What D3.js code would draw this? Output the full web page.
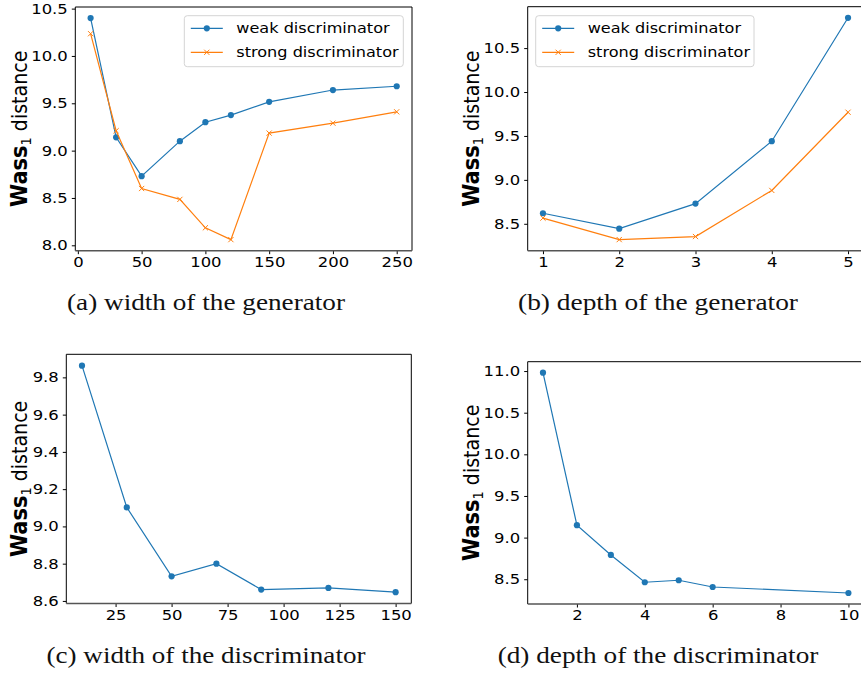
<!DOCTYPE html>
<html>
<head>
<meta charset="utf-8">
<script src="https://cdn.jsdelivr.net/npm/d3@7"></script>
<style>
  body { margin: 0; background: #fff; }
  svg { display: block; }
</style>
</head>
<body>
<svg id="chart" width="861" height="673"></svg>
<script>
// ---- data ----
const seriesNames = ['weak discriminator', 'strong discriminator']

// (a) width of the generator
const genWidths = [10, 30, 50, 80, 100, 120, 150, 200, 250]
const genWidthWeak = [10.40, 9.14, 8.73, 9.10, 9.30, 9.375, 9.515, 9.64, 9.68]
const genWidthStrong = [10.235, 9.21, 8.60, 8.485, 8.185, 8.06, 9.185, 9.29, 9.41]

// (b) depth of the generator
const genDepths = [1, 2, 3, 4, 5]
const genDepthWeak = [8.62, 8.445, 8.73, 9.44, 10.845]
const genDepthStrong = [8.565, 8.32, 8.355, 8.88, 9.77]

// (c) width of the discriminator
const discWidths = [10, 30, 50, 70, 90, 120, 150]
const discWidthVals = [9.863, 9.102, 8.732, 8.80, 8.661, 8.670, 8.647]

// (d) depth of the discriminator
const discDepths = [1, 2, 3, 4, 5, 6, 10]
const discDepthVals = [10.98, 9.149, 8.792, 8.464, 8.488, 8.407, 8.335]

// tick values
const xTicksA = [0, 50, 100, 150, 200, 250]
const yTicksA = [8.0, 8.5, 9.0, 9.5, 10.0, 10.5]
const xTicksB = [1, 2, 3, 4, 5]
const yTicksB = [8.5, 9.0, 9.5, 10.0, 10.5]
const xTicksC = [25, 50, 75, 100, 125, 150]
const yTicksC = [8.6, 8.8, 9.0, 9.2, 9.4, 9.6, 9.8]
const xTicksD = [2, 4, 6, 8, 10]
const yTicksD = [8.5, 9.0, 9.5, 10.0, 10.5, 11.0]

const captions = [
  '(a) width of the generator',
  '(b) depth of the generator',
  '(c) width of the discriminator',
  '(d) depth of the discriminator'
]

const blue = '#1f77b4'
const orange = '#ff7f0e'
const HS = 1.15 // the picture is a bit wider than tall, text gets stretched
const sans = 'DejaVu Sans'

const svg = d3.select('#chart')

// matplotlib style 5% margins
const pad = ([a, b]) => [a - 0.05 * (b - a), b + 0.05 * (b - a)]

const stretchText = sel => {
  sel.selectAll('text').each(function() {
    const t = d3.select(this)
    const tx = +t.attr('x') || 0
    t.attr('x', 0).attr('transform', `translate(${tx},0) scale(${HS},1)`)
  })
}

const drawPanel = p => {
  const { box } = p
  const x = d3.scaleLinear().domain(pad(d3.extent(p.xs))).range([box.l, box.r])
  const allY = p.series.flatMap(s => s.values)
  const y = d3.scaleLinear().domain(pad(d3.extent(allY))).range([box.b, box.t])

  // lines + markers
  p.series.forEach(s => {
    const pts = p.xs.map((v, i) => [v, s.values[i]])
    svg.append('path')
      .datum(pts)
      .attr('fill', 'none')
      .attr('stroke', s.color)
      .attr('stroke-width', 1.2)
      .attr('d', d3.line().x(d => x(d[0])).y(d => y(d[1])))
    const g = svg.append('g')
    if (s.marker === 'o') {
      g.selectAll('circle').data(pts).enter().append('circle')
        .attr('cx', d => x(d[0]))
        .attr('cy', d => y(d[1]))
        .attr('r', 3.1)
        .attr('fill', s.color)
    } else {
      g.selectAll('path').data(pts).enter().append('path')
        .attr('d', 'M-2.6,-2.6L2.6,2.6M-2.6,2.6L2.6,-2.6')
        .attr('transform', d => `translate(${x(d[0])},${y(d[1])})`)
        .attr('stroke', s.color)
        .attr('stroke-width', 1)
    }
  })

  // x axis
  const gx = svg.append('g')
    .attr('transform', `translate(0,${box.b})`)
    .call(d3.axisBottom(x).tickValues(p.xTicks).tickSize(3.5).tickPadding(2.5).tickFormat(d3.format('d')))
  gx.select('.domain').remove()
  gx.attr('font-family', sans).attr('font-size', 14.3)
  gx.selectAll('line').attr('stroke', '#000')
  gx.selectAll('text').attr('fill', '#000')
  stretchText(gx)

  // y axis
  const gy = svg.append('g')
    .attr('transform', `translate(${box.l},0)`)
    .call(d3.axisLeft(y).tickValues(p.yTicks).tickSize(3.5).tickPadding(4).tickFormat(d3.format('.1f')))
  gy.select('.domain').remove()
  gy.attr('font-family', sans).attr('font-size', 14.3)
  gy.selectAll('line').attr('stroke', '#000')
  gy.selectAll('text').attr('fill', '#000')
  stretchText(gy)

  // frame
  const frame = svg.append('g').attr('fill', 'none')
  frame.append('path').attr('d', `M${box.l},${box.b}V${box.t}H${box.r}V${box.b}`)
    .attr('stroke', '#000').attr('stroke-width', 1)
  frame.append('line')
    .attr('x1', box.l).attr('x2', box.r).attr('y1', box.b).attr('y2', box.b)
    .attr('stroke', '#555').attr('stroke-width', 1.5)

  // y label, bold part a bit bigger like mathtext
  const lab = svg.append('text')
    .attr('transform', `translate(${p.labelX},${(box.t + box.b) / 2}) rotate(-90) scale(1,1.08)`)
    .attr('text-anchor', 'middle')
    .attr('font-family', sans)
    .attr('font-size', 19)
    .attr('fill', '#000')
  lab.append('tspan').attr('font-weight', 'bold').attr('font-size', 21).text('Wass')
  lab.append('tspan').attr('font-size', 13).attr('dy', 4).text('1')
  lab.append('tspan').attr('dy', -4).text('\u00a0distance')

  // legend
  if (p.legend) {
    const L = p.legend
    svg.append('rect')
      .attr('x', L.x).attr('y', L.y).attr('width', L.w).attr('height', L.h)
      .attr('rx', 3)
      .attr('fill', 'rgba(255,255,255,0.8)')
      .attr('stroke', '#d4d4d4')
    p.series.forEach((s, i) => {
      const cy = L.y + 12.6 + i * 24
      svg.append('line')
        .attr('x1', L.x + 6.5).attr('x2', L.x + 38.5)
        .attr('y1', cy).attr('y2', cy)
        .attr('stroke', s.color).attr('stroke-width', 1.2)
      const mx = L.x + 22.5
      if (s.marker === 'o') {
        svg.append('circle').attr('cx', mx).attr('cy', cy).attr('r', 3.1).attr('fill', s.color)
      } else {
        svg.append('path').attr('d', 'M-2.6,-2.6L2.6,2.6M-2.6,2.6L2.6,-2.6')
          .attr('transform', `translate(${mx},${cy})`)
          .attr('stroke', s.color).attr('stroke-width', 1)
      }
      svg.append('text')
        .attr('transform', `translate(${L.x + 52},${cy + 5}) scale(${HS},1)`)
        .attr('font-family', sans)
        .attr('font-size', 14)
        .attr('fill', '#000')
        .text(s.name)
    })
  }

  // caption
  svg.append('text')
    .attr('x', p.caption.x).attr('y', p.caption.y)
    .attr('text-anchor', 'middle')
    .attr('font-family', 'Liberation Serif')
    .attr('font-size', 22.5)
    .attr('fill', '#111')
    .attr('textLength', p.caption.w)
    .attr('lengthAdjust', 'spacingAndGlyphs')
    .text(p.caption.text)
}

const twoSeries = (weak, strong) => [
  { name: seriesNames[0], values: weak, color: blue, marker: 'o' },
  { name: seriesNames[1], values: strong, color: orange, marker: 'x' }
]

drawPanel({
  xs: genWidths,
  series: twoSeries(genWidthWeak, genWidthStrong),
  xTicks: xTicksA, yTicks: yTicksA,
  box: { l: 75.3, t: 7, r: 412, b: 250.7 },
  labelX: 26.5,
  legend: { x: 184.3, y: 15.7, w: 219, h: 51 },
  caption: { text: captions[0], x: 206, y: 310, w: 278 }
})

drawPanel({
  xs: genDepths,
  series: twoSeries(genDepthWeak, genDepthStrong),
  xTicks: xTicksB, yTicks: yTicksB,
  box: { l: 527.7, t: 6.7, r: 863.3, b: 250.7 },
  labelX: 479,
  legend: { x: 535.7, y: 15.7, w: 218.3, h: 51 },
  caption: { text: captions[1], x: 658, y: 310, w: 280 }
})

drawPanel({
  xs: discWidths,
  series: [{ name: '', values: discWidthVals, color: blue, marker: 'o' }],
  xTicks: xTicksC, yTicks: yTicksC,
  box: { l: 66.3, t: 354.3, r: 411.3, b: 603.5 },
  labelX: 26.5,
  caption: { text: captions[2], x: 206, y: 662.5, w: 319 }
})

drawPanel({
  xs: discDepths,
  series: [{ name: '', values: discDepthVals, color: blue, marker: 'o' }],
  xTicks: xTicksD, yTicks: yTicksD,
  box: { l: 527.7, t: 361.7, r: 863.7, b: 604 },
  labelX: 479,
  caption: { text: captions[3], x: 658, y: 662.5, w: 320.7 }
})
</script>
</body>
</html>
